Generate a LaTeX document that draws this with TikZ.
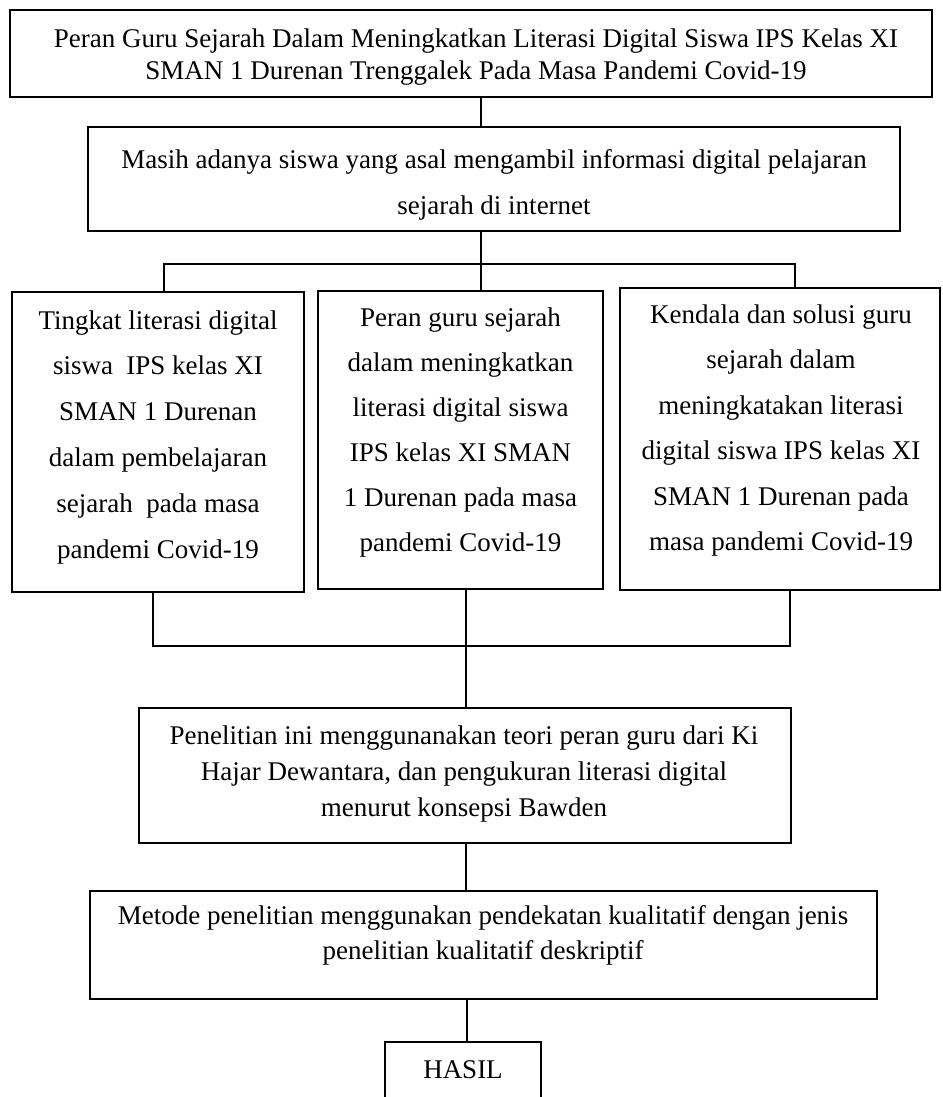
\documentclass[tikz,border=0pt]{standalone}
\usepackage{fontspec}
\setmainfont{Liberation Serif}
\begin{document}
\begin{tikzpicture}[x=0.5pt,y=-0.5pt,
  box/.style={draw=black, line width=0.9pt, inner sep=0pt},
  txt/.style={anchor=north, align=center, inner sep=0pt, font=\fontsize{13.5pt}{#1}\selectfont},
  link/.style={draw=black, line width=0.75pt}]
\useasboundingbox (0,0) rectangle (942,1097);
\fill[white] (0,0) rectangle (942,1097);
\clip (0,0) rectangle (942,1097);

% boxes
\node[box, minimum width=461pt, minimum height=43.5pt] (title) at (471,53.5) {};
\node[box, minimum width=406pt, minimum height=52pt] (issue) at (494,179) {};
\node[box, minimum width=146pt, minimum height=150pt] (A) at (158,442) {};
\node[box, minimum width=142.5pt, minimum height=149pt] (B) at (460.5,440) {};
\node[box, minimum width=160pt, minimum height=151pt] (C) at (780,439) {};
\node[box, minimum width=326pt, minimum height=67.5pt] (D) at (465,775.5) {};
\node[box, minimum width=393.5pt, minimum height=54pt] (E) at (483.5,945) {};
\node[box, minimum width=78pt, minimum height=36pt] (hasil) at (463,1078) {};

% texts
\node[txt=16pt] (titleT) at (476,28) {Peran Guru Sejarah Dalam Meningkatkan Literasi Digital Siswa IPS Kelas XI\\SMAN 1 Durenan Trenggalek Pada Masa Pandemi Covid-19};
\node[txt=23pt] (issueT) at (494,149) {Masih adanya siswa yang asal mengambil informasi digital pelajaran\\sejarah di internet};
\node[txt=22.9pt] (AT) at (158,310) {Tingkat literasi digital\\siswa\ \ IPS kelas XI\\SMAN 1 Durenan\\dalam pembelajaran\\sejarah\ \ pada masa\\pandemi Covid-19};
\node[txt=22.5pt] (BT) at (460.5,307) {Peran guru sejarah\\dalam meningkatkan\\literasi digital siswa\\IPS kelas XI SMAN\\1 Durenan pada masa\\pandemi Covid-19};
\node[txt=22.75pt] (CT) at (781,304) {Kendala dan solusi guru\\sejarah dalam\\meningkatakan literasi\\digital siswa IPS kelas XI\\SMAN 1 Durenan pada\\masa pandemi Covid-19};
\node[txt=18pt] (DT) at (464,725) {Penelitian ini menggunanakan teori peran guru dari Ki\\Hajar Dewantara, dan pengukuran literasi digital\\menurut konsepsi Bawden};
\node[txt=17.5pt] (ET) at (483,905) {Metode penelitian menggunakan pendekatan kualitatif dengan jenis\\penelitian kualitatif deskriptif};
\node[txt=16pt] (hasilT) at (463,1060) {HASIL};

% connector coordinates
\coordinate (t1) at (481,0);
\coordinate (bM) at (481,264);
\coordinate (bL) at (164,264);
\coordinate (bR) at (795,264);
\coordinate (dL) at (153,646);
\coordinate (dM) at (466,646);
\coordinate (dR) at (790,646);
\coordinate (e1) at (466,0);
\coordinate (h1) at (467,0);

% connectors
\draw[link] (title.south -| t1) -- (issue.north -| t1);
\draw[link] (issue.south -| bM) -- (B.north -| bM);
\draw[link] (A.north -| bL) -- (bL) -- (bR) -- (C.north -| bR);
\draw[link] (A.south -| dL) -- (dL) -- (dR) -- (C.south -| dR);
\draw[link] (B.south -| dM) -- (D.north -| dM);
\draw[link] (D.south -| e1) -- (E.north -| e1);
\draw[link] (E.south -| h1) -- (hasil.north -| h1);
\end{tikzpicture}
\end{document}
